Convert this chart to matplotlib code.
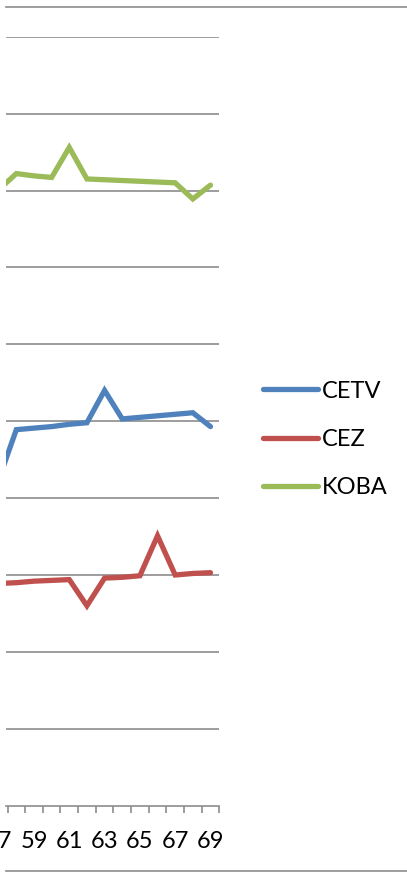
import matplotlib
matplotlib.use('Agg')
import matplotlib.pyplot as plt
from matplotlib.lines import Line2D

### DATA ###
years = [57, 58, 59, 60, 61, 62, 63, 64, 65, 66, 67, 68, 69]
cetv = [4.24, 4.89, 4.91, 4.93, 4.96, 4.98, 5.40, 5.03, 5.05, 5.07, 5.09, 5.11, 4.93]
cez = [2.89, 2.90, 2.92, 2.93, 2.94, 2.60, 2.96, 2.97, 2.99, 3.51, 3.00, 3.02, 3.03]
koba = [8.01, 8.22, 8.19, 8.17, 8.56, 8.15, 8.14, 8.13, 8.12, 8.11, 8.10, 7.89, 8.07]
tick_labels = [59, 61, 63, 65, 67, 69]

grey = '#8c8c8c'
plt.rcParams['font.family'] = ['Lato', 'DejaVu Sans']
fs = 17

W, H = 407, 873
fig = plt.figure(figsize=(W / 100, H / 100), dpi=100)
# plot area in pixels: x 6..219.3, y 36.7..805.7
ax = fig.add_axes([6 / W, (H - 805.7) / H, 213.3 / W, 769 / H])

ax.plot(years, cetv, color='#4F81BD', lw=3.8, solid_capstyle='round', solid_joinstyle='miter', label='CETV')
ax.plot(years, cez, color='#C0504D', lw=3.8, solid_capstyle='round', solid_joinstyle='miter', label='CEZ')
ax.plot(years, koba, color='#9BBB59', lw=3.8, solid_capstyle='round', solid_joinstyle='miter', label='KOBA')

ax.set_xlim(69.5 - 213.3 / 17.65, 69.5)
ax.set_ylim(0, 10)
ax.set_yticks(range(1, 11))
ax.yaxis.grid(True, color=grey, lw=1.2)
ax.set_axisbelow(True)
ax.tick_params(axis='y', left=False, labelleft=False)

for s in ['top', 'right', 'left']:
    ax.spines[s].set_visible(False)
ax.spines['bottom'].set_color(grey)
ax.spines['bottom'].set_linewidth(1.2)

ax.set_xticks(tick_labels)
ax.set_xticklabels([str(t) for t in tick_labels], fontsize=fs)
ax.tick_params(axis='x', which='major', length=0, pad=18)
ax.set_xticks([y + 0.5 for y in years], minor=True)
ax.tick_params(axis='x', which='minor', length=5, width=1.2, color=grey, direction='out')

# cut-off label of the first category (partly outside, as in the original)
ax.text(years[0], -35.3 / 769, str(years[0]), transform=ax.get_xaxis_transform(),
        ha='center', va='center', fontsize=fs, clip_on=False)

leg = ax.legend(loc='center left', bbox_to_anchor=(241.7 / W, 1 - 439.3 / H),
                bbox_transform=fig.transFigure, frameon=False, fontsize=fs,
                handlelength=2.33, handletextpad=0.15, labelspacing=1.15)
for h in leg.get_lines():
    h.set_linewidth(3.8)
    h.set_solid_capstyle('round')

# chart border lines (top and bottom)
fig.add_artist(Line2D([6 / W, 1], [1 - 6.5 / H] * 2, color=grey, lw=1.2, transform=fig.transFigure))
fig.add_artist(Line2D([6 / W, 1], [1 - 871 / H] * 2, color=grey, lw=1.2, transform=fig.transFigure))

fig.savefig('out.png', dpi=100)
